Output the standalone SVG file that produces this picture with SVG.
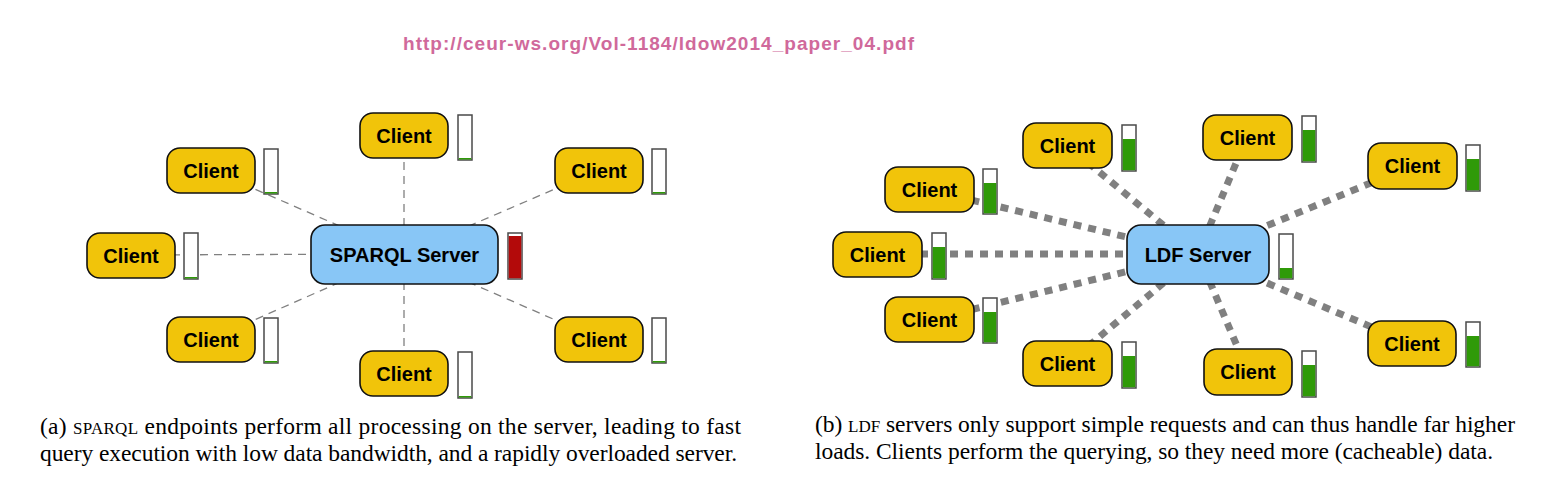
<svg xmlns="http://www.w3.org/2000/svg" width="1546" height="491" viewBox="0 0 1546 491">
<style>
.client{fill:#f1c40a;stroke:#111;stroke-width:1.6}
.server{fill:#88c6f6;stroke:#111;stroke-width:1.6}
.lbl{font-family:"Liberation Sans",Arial,sans-serif;font-weight:bold;font-size:20px;fill:#000;text-anchor:middle}
.bar{fill:#fff;stroke:#4a4a4a;stroke-width:1.5}
.g{fill:#2f9a08}
.r{fill:#b30a0a}
.thin{stroke:#808080;stroke-width:1.3;stroke-dasharray:8 6;fill:none}
.thick{stroke:#808080;stroke-width:7;stroke-dasharray:8 7;fill:none}
.cap{font-family:"Liberation Serif","Times New Roman",serif;font-size:23.5px;fill:#000}
.sc{font-size:17px}
</style>
<rect width="1546" height="491" fill="#fff"/>
<text x="403" y="50" font-family="Liberation Sans,Arial,sans-serif" font-weight="bold" font-size="19" fill="#d0699b" textLength="511">http://ceur-ws.org/Vol-1184/ldow2014_paper_04.pdf</text>

<g id="connectors-a">
<line class="thin" x1="404" y1="254" x2="404" y2="135"/>
<line class="thin" x1="404" y1="254" x2="211" y2="170"/>
<line class="thin" x1="404" y1="254" x2="599" y2="170"/>
<line class="thin" x1="404" y1="254" x2="131" y2="255"/>
<line class="thin" x1="404" y1="254" x2="211" y2="339"/>
<line class="thin" x1="404" y1="254" x2="599" y2="339"/>
<line class="thin" x1="404" y1="254" x2="404" y2="373"/>
</g>

<g id="sparql-server">
<rect class="server" x="311" y="225" width="187" height="59" rx="14"/>
<text class="lbl" x="404.5" y="262" font-size="21">SPARQL Server</text>
<rect class="bar" x="508" y="233" width="14" height="46"/>
<rect class="r" x="508.75" y="236" width="12.5" height="42.25"/>
</g>
<g id="a-client-top">
<rect class="client" x="360" y="113" width="88" height="45" rx="13"/>
<text class="lbl" x="404" y="142.5">Client</text>
<rect class="bar" x="458" y="115" width="14" height="45"/><rect class="g" x="458.75" y="158" width="12.5" height="1.5"/>
</g>
<g id="a-client-ul">
<rect class="client" x="167" y="148" width="88" height="45" rx="13"/>
<text class="lbl" x="211" y="177.5">Client</text>
<rect class="bar" x="264" y="149" width="14" height="45"/><rect class="g" x="264.75" y="192" width="12.5" height="1.5"/>
</g>
<g id="a-client-ur">
<rect class="client" x="555" y="148" width="88" height="45" rx="13"/>
<text class="lbl" x="599" y="177.5">Client</text>
<rect class="bar" x="652" y="149" width="14" height="45"/><rect class="g" x="652.75" y="192" width="12.5" height="1.5"/>
</g>
<g id="a-client-left">
<rect class="client" x="87" y="233" width="88" height="45" rx="13"/>
<text class="lbl" x="131" y="262.5">Client</text>
<rect class="bar" x="184" y="233" width="14" height="46"/><rect class="g" x="184.75" y="277" width="12.5" height="1.5"/>
</g>
<g id="a-client-ll">
<rect class="client" x="167" y="317" width="88" height="45" rx="13"/>
<text class="lbl" x="211" y="346.5">Client</text>
<rect class="bar" x="264" y="318" width="14" height="45"/><rect class="g" x="264.75" y="361" width="12.5" height="1.5"/>
</g>
<g id="a-client-lr">
<rect class="client" x="555" y="317" width="88" height="45" rx="13"/>
<text class="lbl" x="599" y="346.5">Client</text>
<rect class="bar" x="652" y="318" width="14" height="45"/><rect class="g" x="652.75" y="361" width="12.5" height="1.5"/>
</g>
<g id="a-client-bottom">
<rect class="client" x="360" y="351" width="88" height="45" rx="13"/>
<text class="lbl" x="404" y="380.5">Client</text>
<rect class="bar" x="458" y="352" width="14" height="46"/><rect class="g" x="458.75" y="396" width="12.5" height="1.5"/>
</g>

<g id="connectors-b">
<line class="thick" x1="1198" y1="254" x2="1068" y2="146"/>
<line class="thick" x1="1198" y1="254" x2="1247" y2="137"/>
<line class="thick" x1="1198" y1="254" x2="1412" y2="166"/>
<line class="thick" x1="1198" y1="254" x2="929" y2="190"/>
<line class="thick" x1="1198" y1="254" x2="877" y2="254"/>
<line class="thick" x1="1198" y1="254" x2="929" y2="320"/>
<line class="thick" x1="1198" y1="254" x2="1067" y2="364"/>
<line class="thick" x1="1198" y1="254" x2="1248" y2="372"/>
<line class="thick" x1="1198" y1="254" x2="1412" y2="344"/>
</g>

<g id="ldf-server">
<rect class="server" x="1127" y="225" width="142" height="59" rx="14"/>
<text class="lbl" x="1198" y="262" font-size="21">LDF Server</text>
<rect class="bar" x="1279" y="234" width="14" height="45"/><rect class="g" x="1279.75" y="268" width="12.5" height="10.25"/>
</g>
<g id="b-client-1">
<rect class="client" x="1023" y="123" width="89" height="45" rx="13"/>
<text class="lbl" x="1067.5" y="152.5">Client</text>
<rect class="bar" x="1122" y="125" width="14" height="46"/><rect class="g" x="1122.75" y="139" width="12.5" height="31.25"/>
</g>
<g id="b-client-2">
<rect class="client" x="1203" y="115" width="89" height="45" rx="13"/>
<text class="lbl" x="1247.5" y="144.5">Client</text>
<rect class="bar" x="1302" y="116" width="14" height="46"/><rect class="g" x="1302.75" y="130" width="12.5" height="31.25"/>
</g>
<g id="b-client-3">
<rect class="client" x="1368" y="143" width="89" height="46" rx="13"/>
<text class="lbl" x="1412.5" y="173">Client</text>
<rect class="bar" x="1466" y="145" width="14" height="46"/><rect class="g" x="1466.75" y="159" width="12.5" height="31.25"/>
</g>
<g id="b-client-4">
<rect class="client" x="885" y="167" width="89" height="45" rx="13"/>
<text class="lbl" x="929.5" y="196.5">Client</text>
<rect class="bar" x="983" y="169" width="14" height="45"/><rect class="g" x="983.75" y="183" width="12.5" height="30.25"/>
</g>
<g id="b-client-5">
<rect class="client" x="833" y="232" width="89" height="45" rx="13"/>
<text class="lbl" x="877.5" y="261.5">Client</text>
<rect class="bar" x="932" y="233" width="14" height="46"/><rect class="g" x="932.75" y="247" width="12.5" height="31.25"/>
</g>
<g id="b-client-6">
<rect class="client" x="885" y="297" width="89" height="45" rx="13"/>
<text class="lbl" x="929.5" y="326.5">Client</text>
<rect class="bar" x="983" y="298" width="14" height="45"/><rect class="g" x="983.75" y="312" width="12.5" height="30.25"/>
</g>
<g id="b-client-7">
<rect class="client" x="1023" y="341" width="89" height="45" rx="13"/>
<text class="lbl" x="1067.5" y="370.5">Client</text>
<rect class="bar" x="1122" y="342" width="14" height="46"/><rect class="g" x="1122.75" y="356" width="12.5" height="31.25"/>
</g>
<g id="b-client-8">
<rect class="client" x="1204" y="349" width="88" height="46" rx="13"/>
<text class="lbl" x="1248" y="379">Client</text>
<rect class="bar" x="1302" y="351" width="14" height="46"/><rect class="g" x="1302.75" y="365" width="12.5" height="31.25"/>
</g>
<g id="b-client-9">
<rect class="client" x="1368" y="321" width="88" height="45" rx="13"/>
<text class="lbl" x="1412" y="350.5">Client</text>
<rect class="bar" x="1466" y="322" width="14" height="45"/><rect class="g" x="1466.75" y="336" width="12.5" height="30.25"/>
</g>

<g id="captions">
<text class="cap" x="40" y="434" textLength="701">(a) <tspan class="sc">SPARQL</tspan> endpoints perform all processing on the server, leading to fast</text>
<text class="cap" x="40" y="461" textLength="697">query execution with low data bandwidth, and a rapidly overloaded server.</text>
<text class="cap" x="815" y="432" textLength="700">(b) <tspan class="sc">LDF</tspan> servers only support simple requests and can thus handle far higher</text>
<text class="cap" x="815" y="459" textLength="678">loads. Clients perform the querying, so they need more (cacheable) data.</text>
</g>
</svg>
